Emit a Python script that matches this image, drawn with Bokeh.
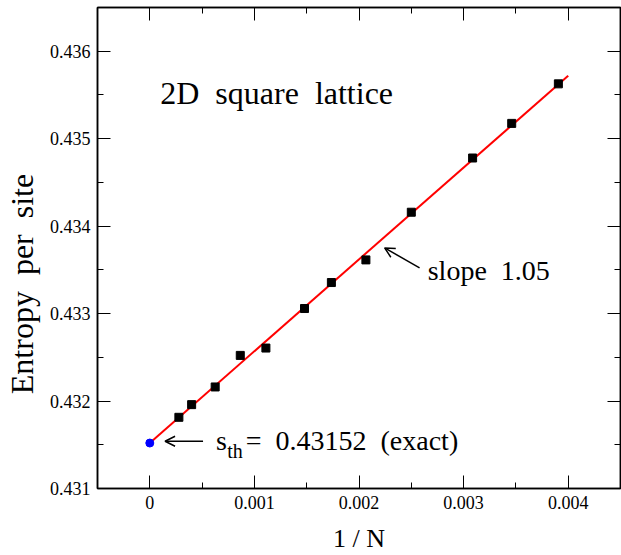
import numpy as np
from bokeh.plotting import figure
from bokeh.models import LinearAxis, Range1d, Arrow, OpenHead, FixedTicker
from bokeh.core.properties import value
from bokeh.embed import file_html
from bokeh.resources import INLINE

# ---- data ----
inv_n = [0.000278, 0.0004, 0.000625, 0.000865, 0.00111, 0.001479,
         0.001736, 0.002066, 0.0025, 0.003086, 0.00346, 0.003906]
entropy = [0.431814, 0.431959, 0.432161, 0.432522, 0.432606, 0.433058,
           0.433355, 0.433614, 0.434159, 0.434779, 0.435175, 0.435627]
s_exact = 0.43152
slope = 1.05
fit_x = [0.0, 0.004]
fit_y = [s_exact + slope * x for x in fit_x]

x_ticks = [0.0, 0.001, 0.002, 0.003, 0.004]
x_tick_labels = ["0", "0.001", "0.002", "0.003", "0.004"]
x_minor = [-0.0005, 0.0005, 0.0015, 0.0025, 0.0035, 0.0045]
y_ticks = [0.431, 0.432, 0.433, 0.434, 0.435, 0.436]
y_tick_labels = ["0.431", "0.432", "0.433", "0.434", "0.435", "0.436"]
y_minor = [0.4315, 0.4325, 0.4335, 0.4345, 0.4355, 0.4365]

FONT = "Liberation Serif"
SP = "\u00a0 "   # wide word gap (non-collapsing)

p = figure(width=621, height=555,
           x_range=Range1d(-0.0005, 0.0045), y_range=Range1d(0.431, 0.4365),
           output_backend="svg", toolbar_location=None,
           x_axis_location=None, y_axis_location=None,
           min_border_left=97, min_border_right=1,
           min_border_top=7, min_border_bottom=66)
p.xgrid.visible = False
p.ygrid.visible = False
p.outline_line_color = "black"
p.outline_line_width = 1.5
p.background_fill_color = "white"
p.border_fill_color = "white"


def style(ax, ticks, minor, labels, show_labels):
    ax.ticker = FixedTicker(ticks=ticks, minor_ticks=minor)
    ax.major_tick_in = 13
    ax.major_tick_out = 0
    ax.minor_tick_in = 6
    ax.minor_tick_out = 0
    ax.axis_line_color = "black"
    ax.axis_line_width = 1.5
    ax.major_tick_line_color = "black"
    ax.minor_tick_line_color = "black"
    ax.major_tick_line_width = 1
    ax.minor_tick_line_width = 1
    ax.major_label_text_font = FONT
    ax.major_label_text_color = "black"
    if show_labels:
        ax.major_label_overrides = {t: l for t, l in zip(ticks, labels)}
        ax.major_label_text_font_size = "18px"
        ax.major_label_standoff = 7
        ax.axis_label_text_font = FONT
        ax.axis_label_text_font_style = "normal"
        ax.axis_label_text_color = "black"
    else:
        ax.major_label_overrides = {t: "" for t in ticks}
        ax.major_label_text_font_size = "10px"
        ax.major_label_standoff = 0


xb = LinearAxis(axis_label="1 / N")
style(xb, x_ticks, x_minor, x_tick_labels, True)
xb.axis_label_text_font_size = "26px"
xb.axis_label_standoff = 12
p.add_layout(xb, "below")

# trailing gaps shift the centred label down along the axis, as in the reference
yl = LinearAxis(axis_label="Entropy" + SP + "per" + SP + "site" + "\u00a0" * 9)
style(yl, y_ticks, y_minor, y_tick_labels, True)
yl.axis_label_text_font_size = "32px"
yl.axis_label_standoff = 7
p.add_layout(yl, "left")

xt = LinearAxis()
style(xt, x_ticks, x_minor, x_tick_labels, False)
p.add_layout(xt, "above")

yr = LinearAxis()
style(yr, y_ticks, y_minor, y_tick_labels, False)
p.add_layout(yr, "right")

# fit line and points
p.line(fit_x, fit_y, line_color="red", line_width=2)
p.scatter(inv_n, entropy, marker="square", size=8, fill_color="black", line_color="black")
p.scatter([0.0], [s_exact], marker="circle", size=8, fill_color="blue", line_color="blue")

# annotations
txt = dict(text_font=value(FONT), text_baseline="alphabetic", text_align="left",
           text_color="black")
p.text(x=[0.0001], y=[0.435524], text=["2D" + SP + "square" + SP + "lattice"],
       text_font_size="32px", **txt)
p.text(x=[0.002657], y=[0.433489], text=["slope" + SP + "1.05"], text_font_size="28px", **txt)
p.text(x=[0.000633], y=[0.431548], text=["s"], text_font_size="28px", **txt)
p.text(x=[0.00074], y=[0.431434], text=["th"], text_font_size="20px", **txt)
p.text(x=[0.000917], y=[0.431548], text=["=" + SP + "0.43152" + SP + "(exact)"],
       text_font_size="28px", **txt)

p.add_layout(Arrow(end=OpenHead(size=10, line_width=1.5, line_color="black"),
                   x_start=0.000509, y_start=s_exact + 0.00002,
                   x_end=0.000146, y_end=s_exact + 0.00002,
                   line_width=1.5, line_color="black"))
p.add_layout(Arrow(end=OpenHead(size=10, line_width=1.5, line_color="black"),
                   x_start=0.002579, y_start=0.433523,
                   x_end=0.002245, y_end=0.433751,
                   line_width=1.5, line_color="black"))

open("out.html", "w").write(file_html(p, INLINE))
